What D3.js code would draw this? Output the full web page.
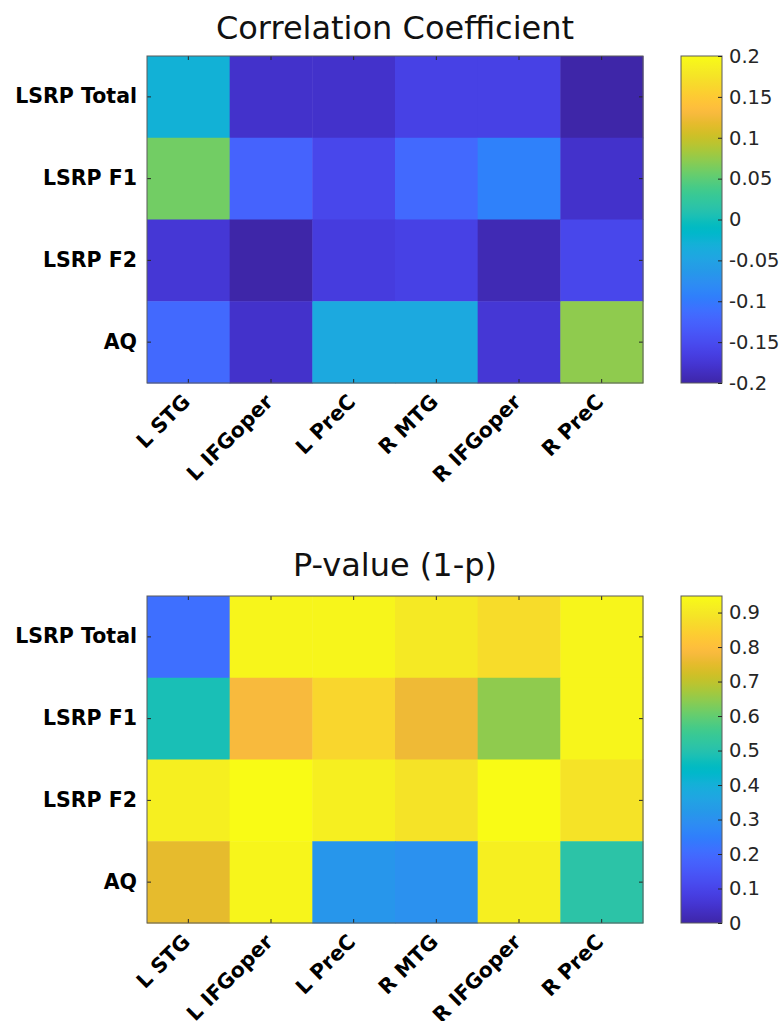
<!DOCTYPE html>
<html>
<meta charset="utf-8">
<script src="https://d3js.org/d3.v7.min.js"></script>
<style>
  body { margin: 0; background: #fff; }
  svg text { font-family: "DejaVu Sans", Verdana, sans-serif; }
</style>
<body>
<div id="chart"></div>
<script>

// row / column labels
var rows = ["LSRP Total", "LSRP F1", "LSRP F2", "AQ"];
var cols = ["L STG", "L IFGoper", "L PreC", "R MTG", "R IFGoper", "R PreC"];

// correlation coefficient, one array per row
var corrValues = [
  [-0.028, -0.178, -0.178, -0.160, -0.157, -0.197],
  [ 0.059, -0.122, -0.153, -0.116, -0.088, -0.178],
  [-0.172, -0.197, -0.166, -0.157, -0.193, -0.153],
  [-0.117, -0.179, -0.041, -0.040, -0.172,  0.069]
];

// p-value (1-p), one array per row
var pValues = [
  [0.215, 0.926, 0.930, 0.896, 0.866, 0.930],
  [0.474, 0.785, 0.859, 0.770, 0.644, 0.926],
  [0.911, 0.940, 0.911, 0.881, 0.945, 0.874],
  [0.748, 0.926, 0.318, 0.304, 0.911, 0.511]
];

var corrDomain = [-0.2, 0.2];
var corrTicks = [-0.2, -0.15, -0.1, -0.05, 0, 0.05, 0.1, 0.15, 0.2];
var pDomain = [0, 0.948];
var pTicks = [0, 0.1, 0.2, 0.3, 0.4, 0.5, 0.6, 0.7, 0.8, 0.9];

// parula colormap (64)
var parula = [
  "#3e26a8","#402ab4","#422ebf","#4332cb","#4537d5","#463cde","#4741e5","#4847eb",
  "#484df0","#4852f4","#4758f8","#465efb","#4563fd","#4269fe","#3e6fff","#3875fe",
  "#327bfc","#2f81fa","#2e87f7","#2d8cf3","#2b91ef","#2796eb","#259be7","#239fe5",
  "#20a5e2","#1ca9df","#18addb","#12b1d6","#08b4d0","#01b8ca","#02bac3","#0bbdbc",
  "#19bfb6","#24c1ae","#2cc3a7","#31c69f","#37c897","#3fca8e","#4acb84","#57cc7a",
  "#64cd6f","#72cd64","#80cc59","#8fcb4e","#9dc943","#abc739","#b9c431","#c5c22a",
  "#d1bf27","#dcbd29","#e6bb2d","#efba36","#f8ba3d","#fdbe3c","#fec338","#fdc934",
  "#fccf30","#f9d62d","#f7dc2a","#f5e327","#f5e924","#f6ef20","#f7f51b","#f9fb15"
];

var width = 782, height = 1021;
var axLeft = 147, axRight = 643, axH = 327;
var cbLeft = 681, cbRight = 722;

var svg = d3.select("#chart")
  .append("svg")
    .attr("width", width)
    .attr("height", height);

// gradient for the colorbars
var grad = svg.append("defs").append("linearGradient")
    .attr("id", "parulaGrad")
    .attr("x1", 0).attr("y1", 1).attr("x2", 0).attr("y2", 0);
grad.selectAll("stop")
  .data(parula)
  .enter()
  .append("stop")
    .attr("offset", function(d, i) { return (i / (parula.length - 1) * 100) + "%"; })
    .attr("stop-color", function(d) { return d; });

drawHeatmap(56, "Correlation Coefficient", 39, corrValues, corrDomain, corrTicks);
drawHeatmap(596, "P-value (1-p)", 576, pValues, pDomain, pTicks);

function drawHeatmap(top, title, titleY, values, domain, ticks) {

  var x = d3.scaleBand().domain(cols).range([axLeft, axRight]);
  var y = d3.scaleBand().domain(rows).range([top, top + axH]);
  var color = d3.scaleQuantize().domain(domain).range(parula);

  var cells = [];
  values.forEach(function(row, i) {
    row.forEach(function(v, j) {
      cells.push({row: rows[i], col: cols[j], value: v});
    });
  });

  var g = svg.append("g");

  g.selectAll("rect.cell")
    .data(cells)
    .enter()
    .append("rect")
      .attr("class", "cell")
      .attr("x", function(d) { return x(d.col); })
      .attr("y", function(d) { return y(d.row); })
      .attr("width", x.bandwidth() + 0.5)
      .attr("height", y.bandwidth() + 0.5)
      .attr("fill", function(d) { return color(d.value); });

  // bottom axis with rotated labels
  var xAxis = g.append("g")
    .attr("transform", "translate(0," + (top + axH) + ")")
    .call(d3.axisBottom(x).tickSizeInner(-4).tickSizeOuter(0));
  xAxis.select(".domain").remove();
  xAxis.selectAll("line").attr("stroke", "#262626");
  xAxis.selectAll("text")
    .attr("x", 0)
    .attr("y", 0)
    .attr("dy", "0.35em")
    .attr("transform", "translate(-2,15) rotate(-45)")
    .attr("text-anchor", "end")
    .style("font-size", "20.5px")
    .style("font-weight", "bold")
    .attr("fill", "#000");

  // top ticks
  var xTop = g.append("g")
    .attr("transform", "translate(0," + top + ")")
    .call(d3.axisTop(x).tickSizeInner(-4).tickSizeOuter(0).tickFormat(""));
  xTop.select(".domain").remove();
  xTop.selectAll("line").attr("stroke", "#262626");

  // left axis
  var yAxis = g.append("g")
    .attr("transform", "translate(" + axLeft + ",0)")
    .call(d3.axisLeft(y).tickSizeInner(-4).tickSizeOuter(0).tickPadding(10));
  yAxis.select(".domain").remove();
  yAxis.selectAll("line").attr("stroke", "#262626");
  yAxis.selectAll("text")
    .style("font-size", "20.5px")
    .style("font-weight", "bold")
    .attr("fill", "#000");

  var yRight = g.append("g")
    .attr("transform", "translate(" + axRight + ",0)")
    .call(d3.axisRight(y).tickSizeInner(-4).tickSizeOuter(0).tickFormat(""));
  yRight.select(".domain").remove();
  yRight.selectAll("line").attr("stroke", "#262626");

  // axes box
  g.append("rect")
    .attr("x", axLeft)
    .attr("y", top)
    .attr("width", axRight - axLeft)
    .attr("height", axH)
    .attr("fill", "none")
    .attr("stroke", "#5a5a5a")
    .attr("stroke-width", 1);

  // title
  g.append("text")
    .attr("x", (axLeft + axRight) / 2)
    .attr("y", titleY)
    .attr("text-anchor", "middle")
    .style("font-size", "32px")
    .attr("fill", "#111")
    .text(title);

  // colorbar
  var cbScale = d3.scaleLinear().domain(domain).range([top + axH, top]);

  g.append("rect")
    .attr("x", cbLeft)
    .attr("y", top)
    .attr("width", cbRight - cbLeft)
    .attr("height", axH)
    .attr("fill", "url(#parulaGrad)")
    .attr("stroke", "#5a5a5a")
    .attr("stroke-width", 1);

  var cbAxis = g.append("g")
    .attr("transform", "translate(" + cbRight + ",0)")
    .call(d3.axisRight(cbScale)
      .tickValues(ticks)
      .tickSizeInner(-4)
      .tickSizeOuter(0)
      .tickPadding(7)
      .tickFormat(function(d) { return d3.format("~g")(+d.toFixed(2)).replace("−", "-"); }));
  cbAxis.select(".domain").remove();
  cbAxis.selectAll("line").attr("stroke", "#262626");
  cbAxis.selectAll("text")
    .style("font-size", "19.5px")
    .attr("fill", "#262626");
}

</script>
</body>
</html>
